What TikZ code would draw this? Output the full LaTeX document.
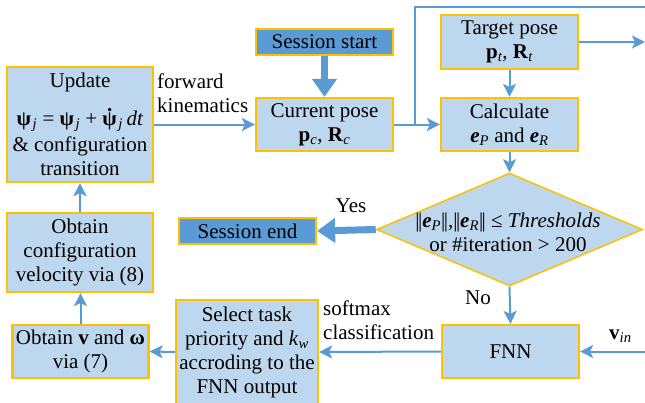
\documentclass[tikz,border=0pt]{standalone}
\usepackage{fontspec}
\setmainfont{Liberation Serif}
\usetikzlibrary{arrows.meta,shapes.geometric}
\definecolor{lb}{HTML}{BDD7EE}
\definecolor{db}{HTML}{5B9BD5}
\definecolor{gd}{HTML}{FFC000}
\definecolor{ln}{HTML}{5B9BD5}
\newcommand\bpsi{\textbf{ψ}}
\newcommand\dpsi{\ooalign{\bpsi\cr\hidewidth\raisebox{0.68em}{\bfseries .}\hidewidth\cr}}
\newcommand\sub[1]{\textsubscript{\itshape #1}}
\newcommand\jsub{\kern1.5pt\sub{j}}
\newcommand\nrm{|\kern-1.5pt|}
\begin{document}
\begin{tikzpicture}[x=1pt,y=-1pt,
 every node/.style={font=\fontsize{21}{24}\selectfont, inner sep=0pt},
 box/.style={draw=gd, line width=2.2pt, fill=lb, align=center},
 sbox/.style={box, fill=db},
 lnline/.style={draw=ln, line width=2pt},
 arr/.style={lnline, -{Stealth[length=13pt,width=13pt,inset=3pt]}},
 thk/.style={draw=ln, line width=7pt, -{Triangle[length=18pt,width=24pt]}},
 lbl/.style={align=left, anchor=north west}]
\useasboundingbox (0,0) rectangle (645,402);

\node[box, minimum width=146pt, minimum height=115pt] (upd) at (80,124.5)
  {Update\\[14pt] \bpsi\jsub{} = \bpsi\jsub{} + \dpsi\jsub\,\textit{dt}\\[2pt] \& configuration\\[0pt] transition};
\node[box, minimum width=146pt, minimum height=79pt] (cfg) at (80,252.5)
  {Obtain\\configuration\\velocity via (8)};
\node[box, minimum width=136pt, minimum height=53pt] (obv) at (80.5,351.5)
  {Obtain \textbf{v} and \textbf{ω}\\via (7)};
\node[box, minimum width=142pt, minimum height=104pt] (sel) at (247,352)
  {Select task\\priority and \textit{k}\sub{w}\\accroding to the\\FNN output};
\node[box, minimum width=137pt, minimum height=53pt] (fnn) at (510.5,351.5) {FNN};
\node[sbox, minimum width=137pt, minimum height=26pt] (start) at (324.5,42) {Session start};
\node[box, minimum width=137pt, minimum height=53pt] (cur) at (324.5,124.5)
  {Current pose\\\textbf{p}\sub{c}, \textbf{R}\sub{c}};
\node[box, minimum width=137pt, minimum height=54pt] (tgt) at (509.5,42)
  {Target pose\\\textbf{p}\sub{t}, \textbf{R}\sub{t}};
\node[box, minimum width=137pt, minimum height=53pt] (calc) at (509.5,124.5)
  {Calculate\\\textbf{\textit{e}}\sub{P} and \textbf{\textit{e}}\sub{R}};
\node[diamond, draw=gd, fill=lb, line width=1.5pt, minimum width=266pt, minimum height=113pt] (dec) at (509.5,229.5) {};
\node[align=center] (dect) at (508,232)
  {\nrm\textbf{\textit{e}}\sub{P}\nrm,\nrm\textbf{\textit{e}}\sub{R}\nrm{} ≤ \textit{Thresholds}\\or \#iteration > 200};
\node[sbox, minimum width=137pt, minimum height=26pt] (send) at (247.5,231) {Session end};

\node[lbl] (fk) at (157,73.5) {forward\\kinematics};
\node[lbl] (sm) at (323,300.5) {softmax\\classification};
\node[anchor=base] (yes) at (351,212) {Yes};
\node[anchor=base] (no) at (478,304) {No};
\node[anchor=base west] (vin) at (609,339) {\textbf{v}\sub{in}};

\coordinate (j1) at (415,124.5);
\coordinate (j2) at (415,7);
\coordinate (j3) at (647,7);
\coordinate (t1) at (645,42);
\coordinate (v1) at (647,351.5);

\draw[arr] (upd.east) -- (cur.west);
\draw[thk] (start.south) -- (cur.north);
\draw[lnline] (cur.east) -- (j1) -- (j2) -- (j3);
\draw[arr] (j1) -- (calc.west);
\draw[arr] (tgt.east) -- (t1);
\draw[arr] (tgt.south) -- (calc.north);
\draw[arr] (calc.south) -- (dec.north);
\draw[thk] (dec.west) -- (send.east);
\draw[arr] (dec.south) -- (fnn.north);
\draw[arr] (v1) -- (fnn.east);
\draw[arr] (fnn.west) -- (sel.east);
\draw[arr] (sel.west) -- (obv.east);
\draw[arr] (obv.north) -- (obv.north |- cfg.south);
\draw[arr] (cfg.north) -- (upd.south);
\end{tikzpicture}
\end{document}
